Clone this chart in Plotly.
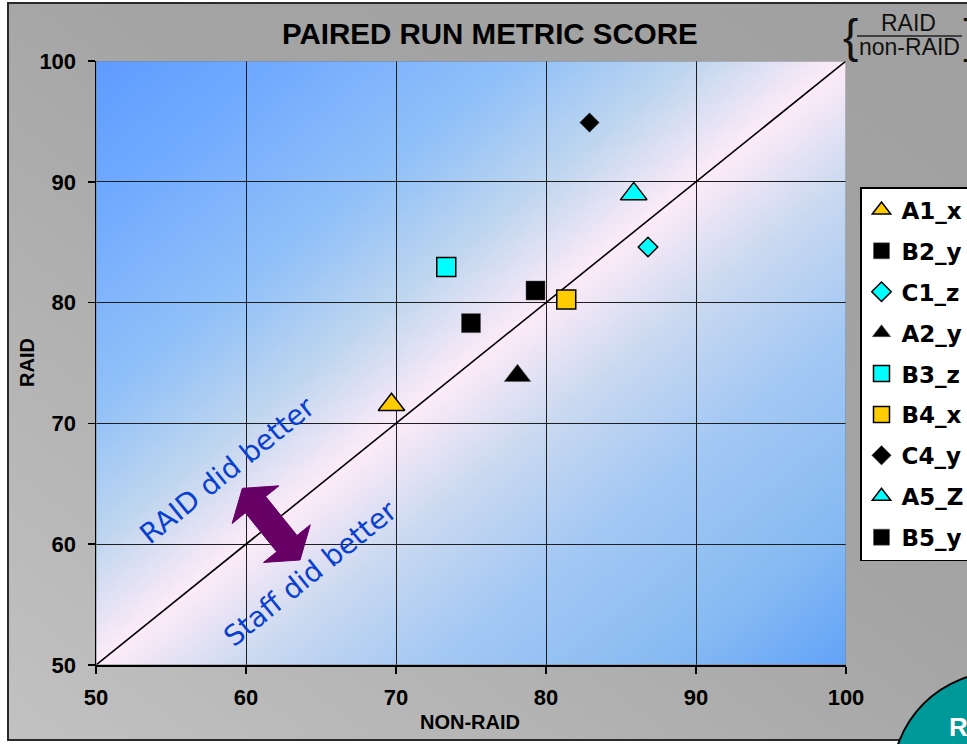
import base64
import plotly.graph_objects as go

# ---------------- data ----------------
series = ["A1_x", "B2_y", "C1_z", "A2_y", "B3_z", "B4_x", "C4_y", "A5_Z", "B5_y"]
non_raid = [69.7, 75.0, 86.8, 78.1, 73.35, 81.35, 82.9, 85.85, 79.3]
raid = [71.55, 78.3, 84.6, 73.95, 82.95, 80.25, 94.9, 89.0, 81.0]
symbols = ["triangle-up", "square", "diamond", "triangle-up", "square",
           "square", "diamond", "triangle-up", "square"]
fills = ["#FFCC00", "#000000", "#00FFFF", "#000000", "#00FFFF",
         "#FFCC00", "#000000", "#00FFFF", "#000000"]
axis_ticks = [50, 60, 70, 80, 90, 100]
diag = [50, 100]

# ---------------- geometry (pixels) ----------------
W, H = 967, 744
L, R, T, B = 96, 846, 61, 665
PW, PH = R - L, B - T
XR, YR = (50, 100), (50, 100)


def px_x(px):
    return (px - L) / PW


def px_y(py):
    return (B - py) / PH


def d_dx(dpx):
    return dpx * (XR[1] - XR[0]) / PW


def d_dy(dpy):
    return -dpy * (YR[1] - YR[0]) / PH


def svg_uri(svg):
    return "data:image/svg+xml;base64," + base64.b64encode(svg.encode()).decode()


plot_bg_svg = """<svg xmlns='http://www.w3.org/2000/svg' viewBox='0 0 100 100' preserveAspectRatio='none' width='100' height='100'>
<defs><linearGradient id='g' x1='0' y1='0' x2='1' y2='1'>
<stop offset='0' stop-color='#5e9bff'/>
<stop offset='0.12' stop-color='#70aaff'/>
<stop offset='0.29' stop-color='#92c1f8'/>
<stop offset='0.40' stop-color='#bfd6ef'/>
<stop offset='0.50' stop-color='#fdebf8'/>
<stop offset='0.60' stop-color='#cad9f0'/>
<stop offset='0.72' stop-color='#a4c8f4'/>
<stop offset='0.88' stop-color='#86baf2'/>
<stop offset='1' stop-color='#62a2f8'/>
</linearGradient></defs>
<rect x='0' y='0' width='100' height='100' fill='url(#g)'/></svg>"""

chart_bg_svg = """<svg xmlns='http://www.w3.org/2000/svg' viewBox='0 0 100 100' preserveAspectRatio='none' width='100' height='100'>
<defs><linearGradient id='g' x1='0' y1='1' x2='1' y2='0'>
<stop offset='0' stop-color='#c2c2c2'/>
<stop offset='0.3' stop-color='#b2b2b2'/>
<stop offset='0.55' stop-color='#a4a4a4'/>
<stop offset='1' stop-color='#a0a0a0'/>
</linearGradient></defs>
<rect x='0' y='0' width='100' height='100' fill='url(#g)'/></svg>"""

fig = go.Figure()

# diagonal reference line
fig.add_trace(go.Scatter(x=diag, y=diag, mode="lines",
                         line=dict(color="black", width=1.6),
                         showlegend=False, hoverinfo="skip"))

size_map = {"triangle-up": 23, "square": 19, "diamond": 15}
for i, name in enumerate(series):
    black = fills[i] == "#000000"
    fig.add_trace(go.Scatter(
        x=[non_raid[i]], y=[raid[i]], mode="markers", name=name,
        legendgroup=name,
        marker=dict(symbol=symbols[i], size=size_map[symbols[i]], color=fills[i],
                    line=dict(color="#000000" if not black else "#555555",
                              width=1.5 if not black else 0.5)),
    ))

# ---------------- arrow (double block arrow) ----------------
cx, cy = 61.68, 61.66  # centre in data units
ux, uy = -0.627, -0.779  # screen dir (towards upper head)
vx, vy = 0.779, -0.627
pts_ab = [(25, 13), (25, 30), (46, 0), (25, -30), (25, -13),
          (-25, -13), (-25, -30), (-46, 0), (-25, 30), (-25, 13)]
path = ""
for k, (a, b) in enumerate(pts_ab):
    dxp = a * ux + b * vx
    dyp = a * uy + b * vy
    X = cx + d_dx(dxp)
    Y = cy + d_dy(dyp)
    path += ("M" if k == 0 else "L") + f"{X:.4f},{Y:.4f} "
path += "Z"

shapes = [
    # chart frame border
    dict(type="rect", xref="paper", yref="paper",
         x0=px_x(8), x1=px_x(1000), y0=px_y(740), y1=px_y(3),
         line=dict(color="#2a2a2a", width=2), fillcolor="rgba(0,0,0,0)", layer="below"),
    # plot border
    dict(type="rect", xref="x", yref="y", x0=50, x1=100, y0=50, y1=100,
         line=dict(color="#7f7f7f", width=1), layer="above"),
    dict(type="path", xref="x", yref="y", path=path,
         fillcolor="#660066", line=dict(color="#660066", width=1)),
    # fraction line
    dict(type="line", xref="paper", yref="paper",
         x0=px_x(857), x1=px_x(962), y0=px_y(36), y1=px_y(36),
         line=dict(color="#222222", width=1.5)),
    # teal circle bottom right
    dict(type="circle", xref="paper", yref="paper",
         x0=px_x(892), x1=px_x(1108), y0=px_y(888), y1=px_y(672),
         fillcolor="#009999", line=dict(color="black", width=2)),
]

images = [
    dict(source=svg_uri(chart_bg_svg), xref="paper", yref="paper",
         x=px_x(8), y=px_y(3), sizex=px_x(1000) - px_x(8), sizey=px_y(3) - px_y(740),
         xanchor="left", yanchor="top", sizing="stretch", layer="below"),
    dict(source=svg_uri(plot_bg_svg), xref="x", yref="y",
         x=50, y=100, sizex=50, sizey=50,
         xanchor="left", yanchor="top", sizing="stretch", layer="below"),
]

ARIAL = "Liberation Sans, Arial, sans-serif"
VERD = "DejaVu Sans, Verdana, sans-serif"
annotations = [
    dict(text="<b>PAIRED RUN METRIC SCORE</b>", xref="paper", yref="paper",
         x=px_x(490), y=1, yshift=T - 33, xanchor="center", yanchor="middle",
         showarrow=False, font=dict(family=ARIAL, size=29.5, color="black")),
    dict(text="<b>NON-RAID</b>", xref="paper", yref="paper",
         x=px_x(470), y=0, yshift=-(722 - B), xanchor="center", yanchor="middle",
         showarrow=False, font=dict(family=ARIAL, size=20, color="black")),
    dict(text="<b>RAID</b>", xref="paper", yref="paper",
         x=0, xshift=-(L - 27), y=px_y(363), xanchor="center", yanchor="middle",
         textangle=-90, showarrow=False, font=dict(family=ARIAL, size=20, color="black")),
    dict(text="RAID did better", xref="x", yref="y", x=58.75, y=66.1,
         textangle=-38.9, showarrow=False, xanchor="center", yanchor="middle",
         font=dict(family=VERD, size=28, color="#0a3fcf")),
    dict(text="Staff did better", xref="x", yref="y", x=64.3, y=57.6,
         textangle=-38.9, showarrow=False, xanchor="center", yanchor="middle",
         font=dict(family=VERD, size=28, color="#0a3fcf")),
    dict(text="RAID", xref="paper", yref="paper", x=px_x(908), y=px_y(23),
         xanchor="center", yanchor="middle", showarrow=False,
         font=dict(family=ARIAL, size=23, color="#111111")),
    dict(text="non-RAID", xref="paper", yref="paper", x=px_x(909), y=px_y(47),
         xanchor="center", yanchor="middle", showarrow=False,
         font=dict(family=ARIAL, size=23, color="#111111")),
    dict(text="{", xref="paper", yref="paper", x=px_x(850), y=px_y(36),
         xanchor="center", yanchor="middle", showarrow=False,
         font=dict(family=ARIAL, size=46, color="#111111")),
    dict(text="}", xref="paper", yref="paper", x=px_x(970), y=px_y(36),
         xanchor="center", yanchor="middle", showarrow=False,
         font=dict(family=ARIAL, size=46, color="#111111")),
    dict(text="<b>R</b>", xref="paper", yref="paper", x=px_x(947), y=px_y(727),
         xanchor="left", yanchor="middle", showarrow=False,
         font=dict(family=ARIAL, size=26, color="white")),
]

axis_common = dict(
    range=[50, 100], tickvals=axis_ticks, ticktext=[str(v) for v in axis_ticks],
    showgrid=True, gridcolor="#1e1e1e", gridwidth=1,
    showline=True, linecolor="black", linewidth=1.5,
    ticks="outside", ticklen=7, tickcolor="black", tickwidth=1.5,
    zeroline=False, fixedrange=True,
    tickfont=dict(family=ARIAL, size=22, color="black", weight="bold"),
)

fig.update_layout(
    width=W, height=H,
    margin=dict(l=L, r=W - R, t=T, b=H - B, autoexpand=False),
    paper_bgcolor="white",
    plot_bgcolor="rgba(0,0,0,0)",
    xaxis=dict(**axis_common, ticklabelstandoff=5),
    yaxis=dict(**axis_common, ticklabelstandoff=7),
    shapes=shapes,
    images=images,
    annotations=annotations,
    legend=dict(
        x=px_x(860), y=px_y(187), xanchor="left", yanchor="top",
        bgcolor="white", bordercolor="black", borderwidth=1.5,
        font=dict(family="DejaVu Sans, Verdana, sans-serif", size=23,
                  color="black", weight="bold"),
        traceorder="grouped", tracegroupgap=8,
        itemclick=False, itemdoubleclick=False,
    ),
    showlegend=True,
)

fig.write_html(
    "out.html",
    config={"displayModeBar": False, "staticPlot": True},
    post_script="document.body.style.margin='0';document.body.style.overflow='hidden';",
)
